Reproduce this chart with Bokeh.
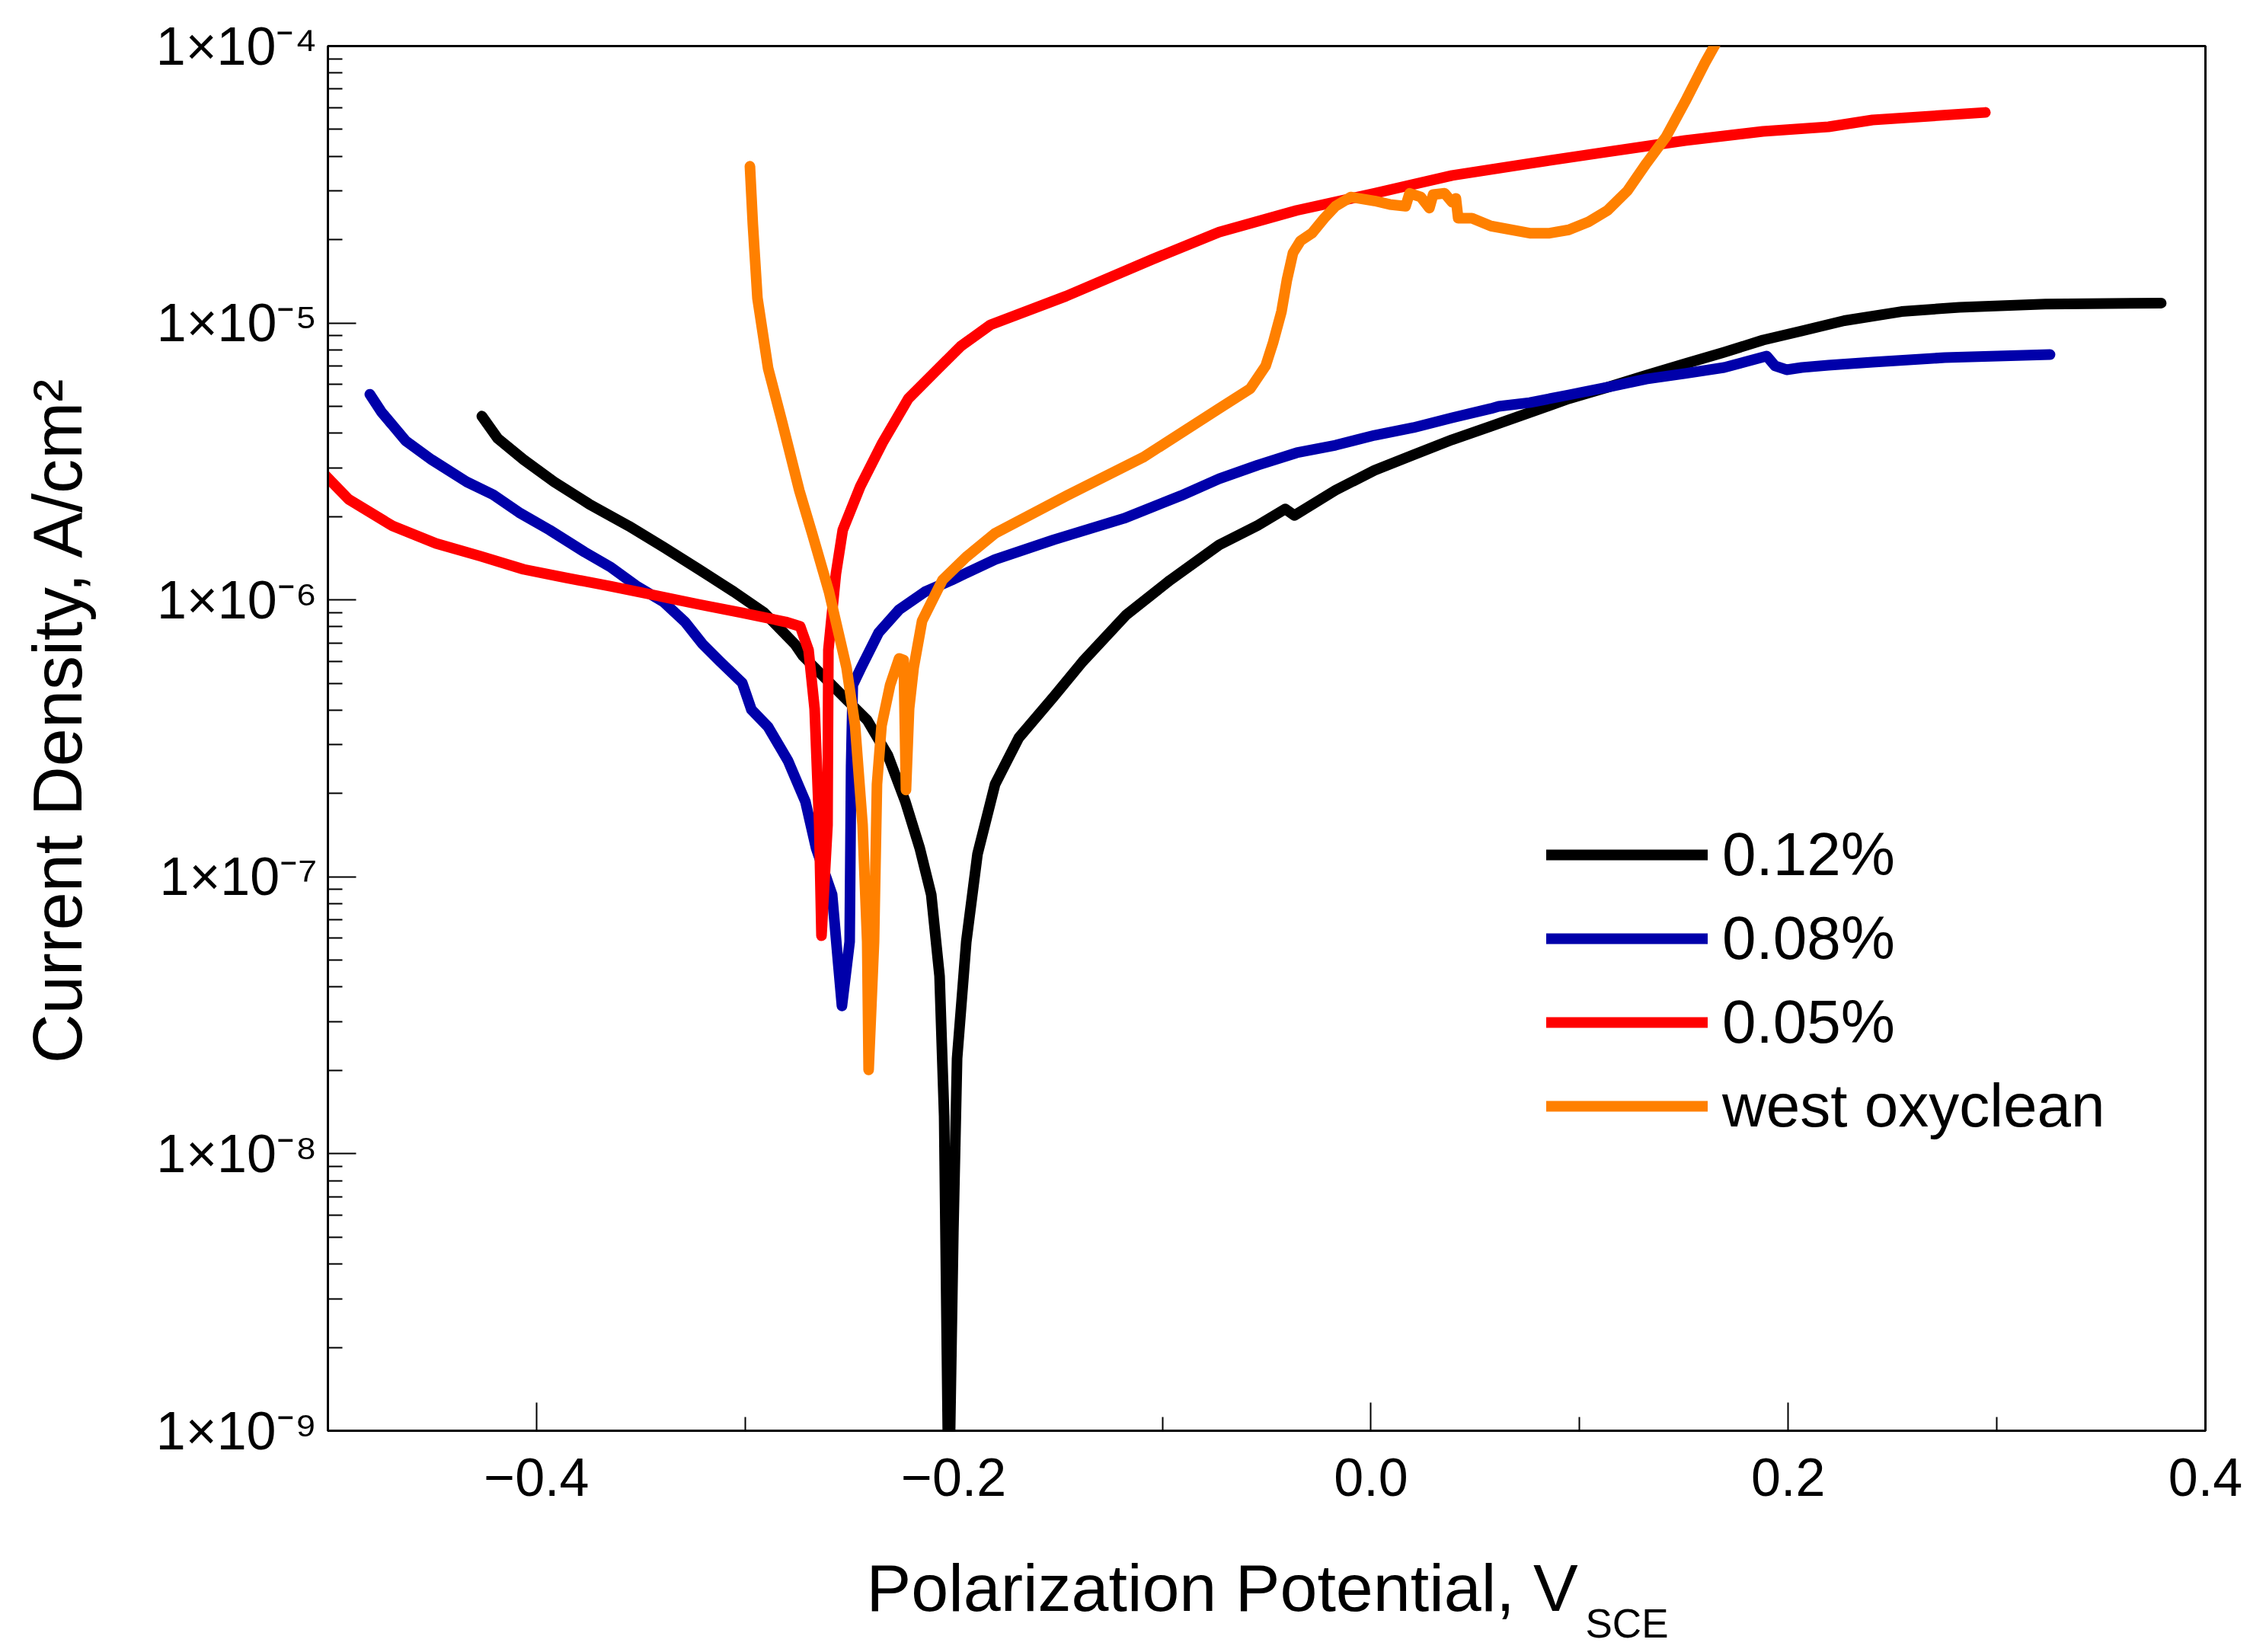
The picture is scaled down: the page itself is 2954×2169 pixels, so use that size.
from math import log10

from bokeh.plotting import figure
from bokeh.models import FixedTicker, CustomJSTickFormatter, Label, Legend, LegendItem
from bokeh.embed import file_html
from bokeh.resources import INLINE

# polarization potential (V vs SCE) and current density (A/cm2)
black_v = [-0.4262, -0.4186, -0.4062, -0.3916, -0.3748, -0.3558, -0.3390, -0.3222, -0.3054, -0.2908,
           -0.2762, -0.2722, -0.2554, -0.2415, -0.2316, -0.2232, -0.2163, -0.2108, -0.2068, -0.2046,
           -0.2024, -0.2002, -0.1984, -0.1940, -0.1886, -0.1802, -0.1688, -0.1520, -0.1382, -0.1174,
           -0.0962, -0.0728, -0.0542, -0.0411, -0.0367, -0.0170, 0.0017, 0.0203, 0.0389, 0.0575,
           0.0761, 0.0948, 0.1134, 0.1320, 0.1506, 0.1693, 0.1879, 0.2065, 0.2269, 0.2543,
           0.2821, 0.3233, 0.3788]
black_i = [4.61e-6, 3.83e-6, 3.21e-6, 2.67e-6, 2.22e-6, 1.85e-6, 1.55e-6, 1.29e-6, 1.07e-6, 8.99e-7,
           6.93e-7, 6.27e-7, 4.68e-7, 3.68e-7, 2.75e-7, 1.87e-7, 1.27e-7, 8.63e-8, 4.38e-8, 1.37e-8,
           5.0e-10, 5.19e-9, 2.21e-8, 5.83e-8, 1.21e-7, 2.16e-7, 3.18e-7, 4.48e-7, 5.99e-7, 8.82e-7,
           1.18e-6, 1.58e-6, 1.86e-6, 2.13e-6, 2.02e-6, 2.49e-6, 2.94e-6, 3.34e-6, 3.79e-6, 4.24e-6,
           4.75e-6, 5.33e-6, 5.86e-6, 6.48e-6, 7.13e-6, 7.84e-6, 8.68e-6, 9.36e-6, 1.02e-5, 1.10e-5,
           1.14e-5, 1.17e-5, 1.18e-5]

blue_v = [-0.4799, -0.4744, -0.4628, -0.4503, -0.4335, -0.4208, -0.4084, -0.3938, -0.3770, -0.3642,
          -0.3518, -0.3390, -0.3288, -0.3204, -0.3120, -0.3014, -0.2970, -0.2890, -0.2795, -0.2711,
          -0.2660, -0.2583, -0.2536, -0.2499, -0.2492, -0.2484, -0.2444, -0.2360, -0.2262, -0.2138,
          -0.2010, -0.1802, -0.1520, -0.1185, -0.0911, -0.0728, -0.0542, -0.0356, -0.0170, 0.0017,
          0.0203, 0.0389, 0.0575, 0.0612, 0.0761, 0.0948, 0.1134, 0.1320, 0.1506, 0.1693,
          0.1897, 0.1937, 0.1992, 0.2065, 0.2193, 0.2404, 0.2751, 0.3255]
blue_i = [5.53e-6, 4.78e-6, 3.76e-6, 3.21e-6, 2.67e-6, 2.40e-6, 2.07e-6, 1.79e-6, 1.49e-6, 1.31e-6,
          1.12e-6, 9.82e-7, 8.33e-7, 6.93e-7, 5.99e-7, 5.02e-7, 4.02e-7, 3.48e-7, 2.63e-7, 1.87e-7,
          1.27e-7, 8.63e-8, 3.42e-8, 5.83e-8, 2.50e-7, 4.93e-7, 5.70e-7, 7.62e-7, 9.22e-7, 1.07e-6,
          1.18e-6, 1.40e-6, 1.65e-6, 1.97e-6, 2.38e-6, 2.74e-6, 3.07e-6, 3.40e-6, 3.62e-6, 3.93e-6,
          4.19e-6, 4.55e-6, 4.91e-6, 5.00e-6, 5.16e-6, 5.50e-6, 5.86e-6, 6.28e-6, 6.57e-6, 6.91e-6,
          7.60e-6, 7.00e-6, 6.78e-6, 6.91e-6, 7.04e-6, 7.22e-6, 7.50e-6, 7.69e-6]

red_v = [-0.5020, -0.4901, -0.4690, -0.4482, -0.4270, -0.4062, -0.3854, -0.3642, -0.3434, -0.3222,
         -0.3014, -0.2806, -0.2736, -0.2696, -0.2667, -0.2645, -0.2634, -0.2605, -0.2601, -0.2565,
         -0.2532, -0.2448, -0.2342, -0.2218, -0.2072, -0.1966, -0.1824, -0.1462, -0.1046, -0.0728,
         -0.0356, 0.0017, 0.0389, 0.0761, 0.1134, 0.1506, 0.1879, 0.2193, 0.2404, 0.2945]
red_i = [2.86e-6, 2.31e-6, 1.85e-6, 1.60e-6, 1.44e-6, 1.29e-6, 1.20e-6, 1.12e-6, 1.04e-6, 9.64e-7,
         8.99e-7, 8.33e-7, 8.02e-7, 6.59e-7, 4.05e-7, 1.54e-7, 6.13e-8, 1.54e-7, 6.59e-7, 1.24e-6,
         1.79e-6, 2.57e-6, 3.69e-6, 5.33e-6, 6.87e-6, 8.25e-6, 9.85e-6, 1.25e-5, 1.70e-5, 2.13e-5,
         2.55e-5, 2.94e-5, 3.41e-5, 3.77e-5, 4.15e-5, 4.56e-5, 4.92e-5, 5.11e-5, 5.41e-5, 5.76e-5]

orange_v = [-0.2977, -0.2963, -0.2941, -0.2890, -0.2824, -0.2740, -0.2678, -0.2598, -0.2514, -0.2473,
            -0.2437, -0.2415, -0.2408, -0.2382, -0.2368, -0.2346, -0.2305, -0.2262, -0.2240, -0.2229,
            -0.2214, -0.2192, -0.2152, -0.2054, -0.1940, -0.1802, -0.1458, -0.1093, -0.0728, -0.0579,
            -0.0505, -0.0469, -0.0429, -0.0403, -0.0374, -0.0338, -0.0283, -0.0224, -0.0170, -0.0097,
            0.0017, 0.0090, 0.0166, 0.0185, 0.0239, 0.0280, 0.0298, 0.0353, 0.0389, 0.0407,
            0.0418, 0.0484, 0.0575, 0.0761, 0.0856, 0.0948, 0.1043, 0.1134, 0.1229, 0.1320,
            0.1415, 0.1506, 0.1601, 0.1718]
orange_i = [3.68e-5, 2.27e-5, 1.23e-5, 6.87e-6, 4.43e-6, 2.48e-6, 1.73e-6, 1.07e-6, 5.70e-7, 3.52e-7,
            1.54e-7, 5.83e-8, 2.01e-8, 5.83e-8, 2.16e-7, 3.52e-7, 4.93e-7, 6.15e-7, 6.07e-7, 2.06e-7,
            4.05e-7, 5.70e-7, 8.39e-7, 1.18e-6, 1.43e-6, 1.74e-6, 2.38e-6, 3.27e-6, 4.91e-6, 5.79e-6,
            7.00e-6, 8.51e-6, 1.10e-5, 1.43e-5, 1.79e-5, 1.98e-5, 2.11e-5, 2.39e-5, 2.64e-5, 2.85e-5,
            2.76e-5, 2.68e-5, 2.64e-5, 2.94e-5, 2.85e-5, 2.60e-5, 2.91e-5, 2.94e-5, 2.73e-5, 2.82e-5,
            2.39e-5, 2.39e-5, 2.24e-5, 2.11e-5, 2.11e-5, 2.17e-5, 2.32e-5, 2.55e-5, 3.00e-5, 3.77e-5,
            4.71e-5, 6.30e-5, 8.70e-5, 1.25e-4]

series_names = ["0.12%", "0.08%", "0.05%", "west oxyclean"]
series_colors = ["#000000", "#0000AA", "#FF0000", "#FF8000"]

x_ticks = [-0.4, -0.2, 0.0, 0.2, 0.4]
x_minor = [-0.3, -0.1, 0.1, 0.3]
y_exps = [-9, -8, -7, -6, -5, -4]

X0, X1 = -0.5, 0.4
Y0, Y1 = 1e-9, 1e-4
FONT = "Liberation Sans"
NBSP = "\u00a0"

# canvas size and frame position on it, in pixels
W, H = 2950, 2166
FL, FT, FR, FB = 430, 60, 2895, 1878


def xd(px):
    return X0 + (px - FL) / (FR - FL) * (X1 - X0)


def yd(py):
    top, bot = log10(Y1), log10(Y0)
    return 10 ** (top - (py - FT) / (FB - FT) * (top - bot))


p = figure(width=W, height=H, x_range=(X0, X1), y_range=(Y0, Y1), y_axis_type="log",
           output_backend="svg", toolbar_location=None,
           min_border_left=FL, min_border_top=FT,
           min_border_right=W - FR, min_border_bottom=H - FB)
p.xgrid.visible = False
p.ygrid.visible = False
p.outline_line_color = "black"
p.outline_line_width = 3
p.background_fill_color = "white"
p.border_fill_color = "white"

renderers = []
for xs, ys, c in [(black_v, black_i, series_colors[0]), (blue_v, blue_i, series_colors[1]),
                  (red_v, red_i, series_colors[2]), (orange_v, orange_i, series_colors[3])]:
    r = p.line(xs, ys, line_color=c, line_width=14, line_cap="round", line_join="round")
    renderers.append(r)

# x axis
xa = p.xaxis[0]
xa.ticker = FixedTicker(ticks=x_ticks, minor_ticks=x_minor)
xa.formatter = CustomJSTickFormatter(
    code="return tick < -1e-9 ? '\u2212' + Math.abs(tick).toFixed(1) : Math.abs(tick).toFixed(1);")
xa.axis_line_width = 3
xa.major_tick_in = 37
xa.major_tick_out = 0
xa.minor_tick_in = 18
xa.minor_tick_out = 0
xa.major_tick_line_width = 2
xa.minor_tick_line_width = 2
xa.major_label_text_font = FONT
xa.major_label_text_font_size = "70px"
xa.major_label_text_color = "black"
xa.major_label_standoff = 36

# y axis
ya = p.yaxis[0]
ya.ticker = FixedTicker(ticks=[10.0 ** e for e in y_exps],
                        minor_ticks=[k * 10.0 ** e for e in y_exps[:-1] for k in range(2, 10)])
ya.formatter = CustomJSTickFormatter(code="""
const e = Math.round(Math.log10(tick));
const sup = {'-': '\u207b', '0': '\u2070', '1': '\u00b9', '2': '\u00b2', '3': '\u00b3',
             '4': '\u2074', '5': '\u2075', '6': '\u2076', '7': '\u2077', '8': '\u2078', '9': '\u2079'};
return '1\u00d710' + String(e).split('').map(c => sup[c]).join('');
""")
ya.axis_line_width = 3
ya.major_tick_in = 37
ya.major_tick_out = 0
ya.minor_tick_in = 19
ya.minor_tick_out = 0
ya.major_tick_line_width = 2
ya.minor_tick_line_width = 2
ya.major_label_text_font = FONT
ya.major_label_text_font_size = "70px"
ya.major_label_text_color = "black"
ya.major_label_standoff = 14
ya.axis_label = NBSP * 2 + "Current Density, A/cm\u00b2"
ya.axis_label_text_font = FONT
ya.axis_label_text_font_size = "90px"
ya.axis_label_text_font_style = "normal"
ya.axis_label_text_color = "black"
ya.axis_label_standoff = 76

# x title with its subscript, placed below the axis
p.add_layout(Label(x=xd(1137), y=yd(2084), text="Polarization Potential, V", text_align="left",
                   text_baseline="middle", text_font=FONT, text_font_size="88px",
                   text_color="black"), "below")
p.add_layout(Label(x=xd(2081), y=yd(2131), text="SCE", text_align="left",
                   text_baseline="middle", text_font=FONT, text_font_size="53px",
                   text_color="black"), "below")

legend = Legend(items=[LegendItem(label=n, renderers=[r]) for n, r in zip(series_names, renderers)],
                location=(2030 - FL, FB - 1498))
legend.border_line_color = None
legend.background_fill_alpha = 0
legend.padding = 0
legend.margin = 0
legend.spacing = 18
legend.glyph_width = 212
legend.glyph_height = 90
legend.label_height = 90
legend.label_standoff = 19
legend.label_text_font = FONT
legend.label_text_font_size = "80px"
legend.label_text_color = "black"
legend.label_text_baseline = "middle"
p.add_layout(legend)

open("out.html", "w").write(file_html(p, INLINE))
